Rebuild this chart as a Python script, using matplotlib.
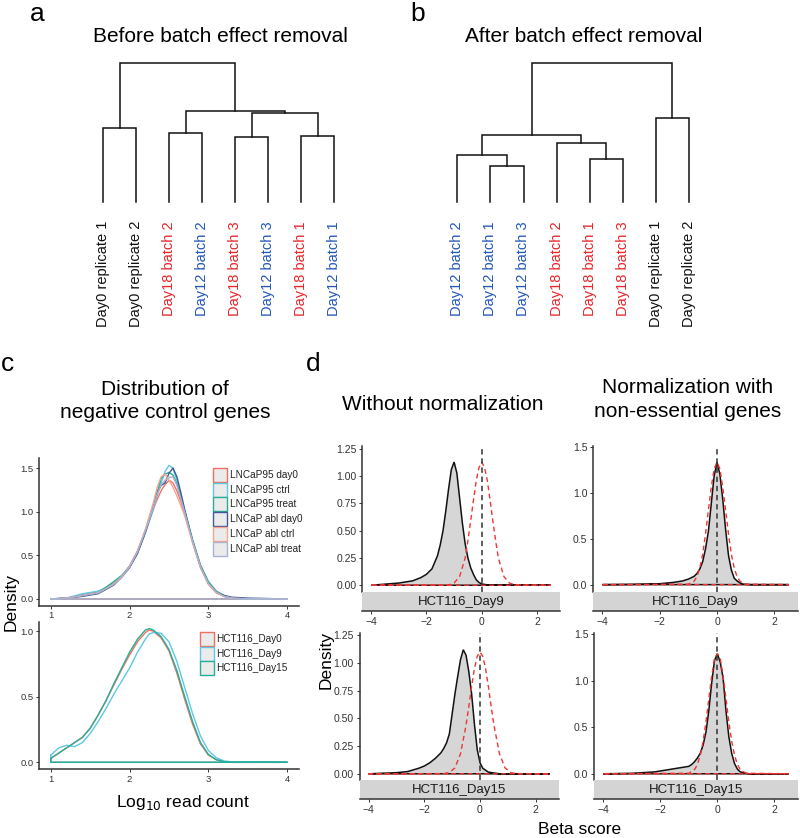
import matplotlib
matplotlib.use("Agg")
import matplotlib.pyplot as plt
from matplotlib.patches import Rectangle

plt.rcParams['font.family'] = ['Liberation Sans', 'DejaVu Sans']

# ---------------- data ----------------
# Dendrogram a (leaves in display order, merges: child, child, height)
a_labels = ["Day0 replicate 1", "Day0 replicate 2", "Day18 batch 2", "Day12 batch 2",
            "Day18 batch 3", "Day12 batch 3", "Day18 batch 1", "Day12 batch 1"]
a_groups = ["Day0", "Day0", "Day18", "Day12", "Day18", "Day12", "Day18", "Day12"]
a_merges = [(0, 1, 74), (2, 3, 69), (4, 5, 65), (6, 7, 66), (10, 11, 89), (9, 12, 91), (8, 13, 139)]

b_labels = ["Day12 batch 2", "Day12 batch 1", "Day12 batch 3", "Day18 batch 2",
            "Day18 batch 1", "Day18 batch 3", "Day0 replicate 1", "Day0 replicate 2"]
b_groups = ["Day12", "Day12", "Day12", "Day18", "Day18", "Day18", "Day0", "Day0"]
b_merges = [(1, 2, 36), (0, 8, 47), (4, 5, 43), (3, 10, 59), (9, 11, 67), (6, 7, 84), (12, 13, 139)]

# Panel c (upper): density of log10 read counts
c1_x = [1.0, 1.2, 1.4, 1.6, 1.8, 1.9, 2.0, 2.1, 2.2, 2.3, 2.35, 2.4, 2.45, 2.5, 2.55, 2.6,
        2.65, 2.7, 2.8, 2.9, 3.0, 3.1, 3.2, 3.3, 3.5, 4.0]
c1_names = ["LNCaP95 day0", "LNCaP95 ctrl", "LNCaP95 treat", "LNCaP abl day0", "LNCaP abl ctrl", "LNCaP abl treat"]
c1_lncap95_day0 = [0, 0.01, 0.05, 0.08, 0.18, 0.26, 0.38, 0.55, 0.78, 1.03, 1.14, 1.24, 1.31, 1.36, 1.33, 1.24,
                   1.12, 0.98, 0.65, 0.36, 0.17, 0.07, 0.03, 0.01, 0.0, 0.0]
c1_lncap95_ctrl = [0, 0.01, 0.06, 0.09, 0.17, 0.25, 0.36, 0.53, 0.76, 1.02, 1.18, 1.33, 1.46, 1.53, 1.50, 1.36,
                   1.18, 1.00, 0.66, 0.37, 0.18, 0.08, 0.03, 0.01, 0, 0]
c1_lncap95_treat = [0, 0.01, 0.04, 0.07, 0.20, 0.27, 0.37, 0.54, 0.78, 1.05, 1.22, 1.38, 1.43, 1.45, 1.42, 1.32,
                    1.17, 1.01, 0.68, 0.39, 0.20, 0.09, 0.04, 0.01, 0, 0]
c1_abl_day0 = [0, 0.01, 0.03, 0.06, 0.16, 0.25, 0.36, 0.52, 0.76, 1.05, 1.22, 1.30, 1.33, 1.44, 1.50, 1.40,
               1.22, 1.02, 0.66, 0.37, 0.18, 0.08, 0.04, 0.02, 0.01, 0]
c1_abl_ctrl = [0, 0.01, 0.04, 0.07, 0.17, 0.25, 0.37, 0.55, 0.80, 1.10, 1.28, 1.40, 1.43, 1.36, 1.28, 1.18,
               1.07, 0.95, 0.64, 0.36, 0.17, 0.07, 0.03, 0.01, 0, 0]
c1_abl_treat = [0, 0.01, 0.04, 0.07, 0.17, 0.26, 0.37, 0.54, 0.78, 1.04, 1.20, 1.31, 1.36, 1.39, 1.40, 1.30,
                1.15, 0.99, 0.66, 0.37, 0.18, 0.08, 0.03, 0.01, 0, 0]

# Panel c (lower)
c2_x = [1.0, 1.1, 1.2, 1.3, 1.4, 1.5, 1.6, 1.7, 1.8, 1.9, 2.0, 2.1, 2.2, 2.25, 2.3, 2.4, 2.5, 2.6,
        2.7, 2.8, 2.9, 3.0, 3.1, 3.2, 3.3, 4.0]
c2_names = ["HCT116_Day0", "HCT116_Day9", "HCT116_Day15"]
c2_day0 = [0.03, 0.07, 0.11, 0.15, 0.19, 0.26, 0.36, 0.47, 0.59, 0.71, 0.82, 0.92, 0.99, 1.01, 1.00, 0.95,
           0.85, 0.68, 0.48, 0.29, 0.14, 0.055, 0.02, 0.005, 0, 0]
c2_day9 = [0.056, 0.11, 0.13, 0.12, 0.15, 0.22, 0.31, 0.41, 0.52, 0.62, 0.72, 0.84, 0.94, 0.98, 0.99, 0.985,
           0.92, 0.77, 0.57, 0.37, 0.20, 0.09, 0.035, 0.01, 0.003, 0]
c2_day15 = [0.03, 0.07, 0.11, 0.15, 0.19, 0.26, 0.36, 0.47, 0.60, 0.72, 0.84, 0.94, 1.01, 1.02, 1.01, 0.96,
            0.86, 0.70, 0.50, 0.31, 0.15, 0.06, 0.02, 0.005, 0, 0]

# Panel d: beta score densities (black = observed, red = reference normal)
d_raw9_x = [-4.0, -3.0, -2.5, -2.2, -2.0, -1.8, -1.6, -1.5, -1.4, -1.3, -1.2, -1.1, -1.0, -0.9, -0.8, -0.7,
            -0.6, -0.5, -0.4, -0.3, -0.2, -0.1, 0.0, 0.2, 0.5, 2.5]
d_raw9_y = [0.0, 0.02, 0.04, 0.07, 0.10, 0.15, 0.27, 0.37, 0.50, 0.68, 0.88, 1.06, 1.13, 1.03, 0.80, 0.57,
            0.38, 0.25, 0.16, 0.10, 0.05, 0.025, 0.012, 0.003, 0.0, 0.0]
d_raw9_ref_x = [-4.0, -1.2, -1.0, -0.8, -0.6, -0.5, -0.4, -0.3, -0.2, -0.1, 0.0, 0.1, 0.2, 0.3, 0.4, 0.5,
                0.6, 0.8, 1.0, 1.2, 2.5]
d_raw9_ref_y = [0, 0.003, 0.02, 0.08, 0.25, 0.41, 0.59, 0.78, 0.96, 1.08, 1.13, 1.08, 0.96, 0.78, 0.59, 0.41,
                0.25, 0.08, 0.02, 0.003, 0]

d_norm9_x = [-4.0, -3.0, -2.0, -1.5, -1.2, -1.0, -0.8, -0.7, -0.6, -0.5, -0.4, -0.3, -0.2, -0.1, 0.0, 0.1,
             0.2, 0.3, 0.4, 0.5, 0.6, 0.7, 0.8, 0.9, 1.2, 2.5]
d_norm9_y = [0.0, 0.003, 0.01, 0.025, 0.04, 0.06, 0.09, 0.12, 0.17, 0.25, 0.39, 0.58, 0.88, 1.18, 1.33, 1.20,
             0.93, 0.60, 0.32, 0.16, 0.07, 0.04, 0.02, 0.005, 0.0, 0.0]
d_norm9_ref_x = [-4.0, -1.0, -0.8, -0.7, -0.6, -0.5, -0.4, -0.3, -0.2, -0.1, 0.0, 0.1, 0.2, 0.3, 0.4, 0.5,
                 0.6, 0.7, 0.8, 1.0, 2.5]
d_norm9_ref_y = [0, 0.005, 0.037, 0.087, 0.18, 0.33, 0.55, 0.81, 1.06, 1.26, 1.33, 1.26, 1.06, 0.81, 0.55, 0.33,
                 0.18, 0.087, 0.037, 0.005, 0]

d_raw15_x = [-4.0, -3.0, -2.6, -2.2, -2.0, -1.8, -1.6, -1.4, -1.3, -1.2, -1.1, -1.0, -0.9, -0.8, -0.7, -0.6,
             -0.5, -0.4, -0.3, -0.2, -0.1, 0.0, 0.1, 0.3, 0.7, 2.5]
d_raw15_y = [0.0, 0.01, 0.02, 0.05, 0.07, 0.10, 0.14, 0.19, 0.23, 0.28, 0.36, 0.54, 0.72, 0.88, 1.03, 1.12,
             1.07, 0.92, 0.72, 0.45, 0.22, 0.10, 0.05, 0.015, 0.0, 0.0]
d_raw15_ref_x = [-4.0, -1.3, -1.1, -0.9, -0.7, -0.5, -0.4, -0.3, -0.2, -0.1, 0.0, 0.1, 0.2, 0.3, 0.4, 0.5,
                 0.7, 0.9, 1.1, 1.3, 2.5]
d_raw15_ref_y = [0, 0.002, 0.012, 0.053, 0.18, 0.44, 0.61, 0.79, 0.95, 1.06, 1.10, 1.06, 0.95, 0.79, 0.61, 0.44,
                 0.18, 0.053, 0.012, 0.002, 0]

d_norm15_x = [-4.0, -3.0, -2.2, -1.6, -1.2, -1.0, -0.9, -0.8, -0.7, -0.6, -0.5, -0.4, -0.3, -0.2, -0.1, 0.0,
              0.1, 0.2, 0.3, 0.4, 0.5, 0.6, 0.7, 0.8, 1.1, 2.5]
d_norm15_y = [0.0, 0.005, 0.02, 0.05, 0.07, 0.08, 0.10, 0.13, 0.17, 0.22, 0.31, 0.45, 0.68, 0.98, 1.22, 1.29,
              1.20, 1.03, 0.68, 0.40, 0.22, 0.11, 0.05, 0.02, 0.0, 0.0]
d_norm15_ref_x = [-4.0, -1.0, -0.8, -0.7, -0.6, -0.5, -0.4, -0.3, -0.2, -0.1, 0.0, 0.1, 0.2, 0.3, 0.4, 0.5,
                  0.6, 0.7, 0.8, 1.0, 2.5]
d_norm15_ref_y = [0, 0.006, 0.045, 0.10, 0.20, 0.35, 0.56, 0.81, 1.05, 1.24, 1.29, 1.24, 1.05, 0.81, 0.56, 0.35,
                  0.20, 0.10, 0.045, 0.006, 0]

# ---------------- style ----------------
W, H = 800, 838
fig = plt.figure(figsize=(W / 100, H / 100), dpi=100)

group_colors = {"Day0": "#111111", "Day12": "#2157B5", "Day18": "#E8242A"}
c1_colors = ["#F07060", "#5EC8E5", "#2AAE93", "#3F5A9A", "#F7A58F", "#A9B4D0"]
c2_colors = ["#F07060", "#5EC8E5", "#27AE98"]
AX_COL = "#333333"


def fax(l, t, r, b):
    return fig.add_axes([l / W, 1 - b / H, (r - l) / W, (b - t) / H])


def ftext(x, y, s, **kw):
    fig.text(x / W, 1 - y / H, s, **kw)


def density_outline(ax, xs, ys, **kw):
    # closed density outline: curve, then back along the baseline y=0
    px = list(xs) + [xs[-1], xs[0], xs[0]]
    py = list(ys) + [0, 0, ys[0]]
    ax.plot(px, py, **kw)


def dendro(x0, spacing, labels, groups, merges):
    ax = fax(x0 - spacing / 2, 202 - 142, x0 + spacing * 7.5, 202)
    ax.set_xlim(-0.5, 7.5)
    ax.set_ylim(0, 142)
    ax.axis('off')
    pos = {i: (float(i), 0.0) for i in range(8)}
    nid = 8
    for l, r, h in merges:
        xl, hl = pos[l]
        xr, hr = pos[r]
        ax.plot([xl, xl, xr, xr], [hl, h, h, hr], color='#111111', lw=1.1,
                solid_joinstyle='miter', clip_on=False)
        pos[nid] = ((xl + xr) / 2, h)
        nid += 1
    for i, (lab, g) in enumerate(zip(labels, groups)):
        ax.text(i, -19, lab, rotation=90, ha='center', va='top', fontsize=10.5,
                color=group_colors[g], clip_on=False)


# ---------------- panel a / b ----------------
ftext(37, 14, "a", fontsize=19, ha='center', va='center')
ftext(220, 36, "Before batch effect removal", fontsize=15, ha='center', va='center')
dendro(103, 33, a_labels, a_groups, a_merges)

ftext(418, 14, "b", fontsize=19, ha='center', va='center')
ftext(584, 36, "After batch effect removal", fontsize=15, ha='center', va='center')
dendro(457.3, 33.1, b_labels, b_groups, b_merges)

# ---------------- panel c ----------------
ftext(8, 364, "c", fontsize=19, ha='center', va='center')
ftext(313, 364, "d", fontsize=19, ha='center', va='center')
ftext(165, 389, "Distribution of", fontsize=15, ha='center', va='center')
ftext(165, 413, "negative control genes", fontsize=15, ha='center', va='center')


def style_c(ax):
    for s in ['top', 'right']:
        ax.spines[s].set_visible(False)
    for s in ['left', 'bottom']:
        ax.spines[s].set_color(AX_COL)
        ax.spines[s].set_linewidth(1.1)
    ax.tick_params(length=2.5, width=0.7, colors=AX_COL, labelsize=6.8, pad=1.5)
    ax.set_facecolor('none')


c_top = fax(39, 458, 299, 605.7)
c1_series = [c1_lncap95_day0, c1_lncap95_ctrl, c1_lncap95_treat, c1_abl_day0, c1_abl_ctrl, c1_abl_treat]
for ys, col in zip(c1_series, c1_colors):
    density_outline(c_top, c1_x, ys, color=col, lw=1.0)
c_top.set_xlim(0.85, 4.15)
c_top.set_ylim(-0.077, 1.615)
c_top.set_xticks([1, 2, 3, 4])
c_top.set_yticks([0, 0.5, 1.0, 1.5])
c_top.set_yticklabels(["0.0", "0.5", "1.0", "1.5"])
style_c(c_top)

c_bot = fax(39, 621.7, 299, 769)
for ys, col in zip([c2_day0, c2_day9, c2_day15], c2_colors):
    density_outline(c_bot, c2_x, ys, color=col, lw=1.0)
c_bot.set_xlim(0.85, 4.15)
c_bot.set_ylim(-0.051, 1.073)
c_bot.set_xticks([1, 2, 3, 4])
c_bot.set_yticks([0, 0.5, 1.0])
c_bot.set_yticklabels(["0.0", "0.5", "1.0"])
style_c(c_bot)


def legend_box(x, y, col, label):
    fig.add_artist(Rectangle((x / W, 1 - (y + 7) / H), 14 / W, 14 / H, transform=fig.transFigure,
                             facecolor='#ebebeb', edgecolor=col, lw=1.0))
    ftext(x + 16.5, y, label, fontsize=7.2, ha='left', va='center', color='#222222')


for i, (nm, col) in enumerate(zip(c1_names, c1_colors)):
    legend_box(213, 475 + 14.7 * i, col, nm)
for i, (nm, col) in enumerate(zip(c2_names, c2_colors)):
    legend_box(200, 639 + 14.7 * i, col, nm)

ftext(11, 602, "Density", fontsize=12.5, rotation=90, ha='center', va='center')
ftext(183, 802, "Log$_{10}$ read count", fontsize=12.5, ha='center', va='center')

# ---------------- panel d ----------------
ftext(443, 404, "Without normalization", fontsize=15, ha='center', va='center')
ftext(688, 387, "Normalization with", fontsize=15, ha='center', va='center')
ftext(688, 411, "non-essential genes", fontsize=15, ha='center', va='center')


def d_panel(l, r, t, b, sb, xs, ys, rx, ry, ylim, yticks, ylabels, strip_label):
    ax = fax(l, t, r, b)
    ax.fill(xs, ys, facecolor='#d6d6d6', edgecolor='#111111', lw=1.1, zorder=2)
    ax.fill(rx, ry, facecolor='none', edgecolor='#F03535', lw=1.0, linestyle=(0, (3.5, 2.5)), zorder=3)
    ax.axvline(0, color='#333333', lw=1.1, linestyle=(0, (3.5, 2.5)), zorder=4)
    ax.set_xlim(-4.325, 2.825)
    ax.set_ylim(*ylim)
    ax.set_yticks(yticks)
    ax.set_yticklabels(ylabels)
    ax.set_xticks([])
    for s in ['top', 'right', 'bottom']:
        ax.spines[s].set_visible(False)
    ax.spines['left'].set_color(AX_COL)
    ax.spines['left'].set_linewidth(1.1)
    ax.tick_params(axis='y', length=2.5, width=0.7, colors=AX_COL, labelsize=7.5, pad=1.5)
    ax.set_facecolor('none')

    st = fax(l, b, r, sb)
    st.set_facecolor('#d4d4d4')
    st.set_xlim(-4.325, 2.825)
    st.set_ylim(0, 1)
    st.set_yticks([])
    st.set_xticks([-4, -2, 0, 2])
    for s in ['top', 'right', 'left']:
        st.spines[s].set_visible(False)
    st.spines['bottom'].set_color(AX_COL)
    st.spines['bottom'].set_linewidth(1.1)
    st.tick_params(axis='x', length=2.5, width=0.7, colors=AX_COL, labelsize=7.5, pad=1.5)
    st.text(0.5, 0.5, strip_label, transform=st.transAxes, ha='center', va='center',
            fontsize=9.5, color='#1a1a1a')


d_panel(362, 560, 445.7, 592, 611, d_raw9_x, d_raw9_y, d_raw9_ref_x, d_raw9_ref_y,
        (-0.062, 1.28), [0, 0.25, 0.5, 0.75, 1.0, 1.25], ["0.00", "0.25", "0.50", "0.75", "1.00", "1.25"],
        "HCT116_Day9")
d_panel(593, 798, 445.7, 592, 611, d_norm9_x, d_norm9_y, d_norm9_ref_x, d_norm9_ref_y,
        (-0.08, 1.51), [0, 0.5, 1.0, 1.5], ["0.0", "0.5", "1.0", "1.5"], "HCT116_Day9")
d_panel(359.5, 558.7, 632.7, 780, 799, d_raw15_x, d_raw15_y, d_raw15_ref_x, d_raw15_ref_y,
        (-0.056, 1.274), [0, 0.25, 0.5, 0.75, 1.0, 1.25], ["0.00", "0.25", "0.50", "0.75", "1.00", "1.25"],
        "HCT116_Day15")
d_panel(594, 798, 632.7, 780, 799, d_norm15_x, d_norm15_y, d_norm15_ref_x, d_norm15_ref_y,
        (-0.067, 1.517), [0, 0.5, 1.0, 1.5], ["0.0", "0.5", "1.0", "1.5"], "HCT116_Day15")

ftext(326, 660, "Density", fontsize=12.5, rotation=90, ha='center', va='center')
ftext(580, 829, "Beta score", fontsize=12.5, ha='center', va='center')

fig.savefig("out.png", dpi=100)
